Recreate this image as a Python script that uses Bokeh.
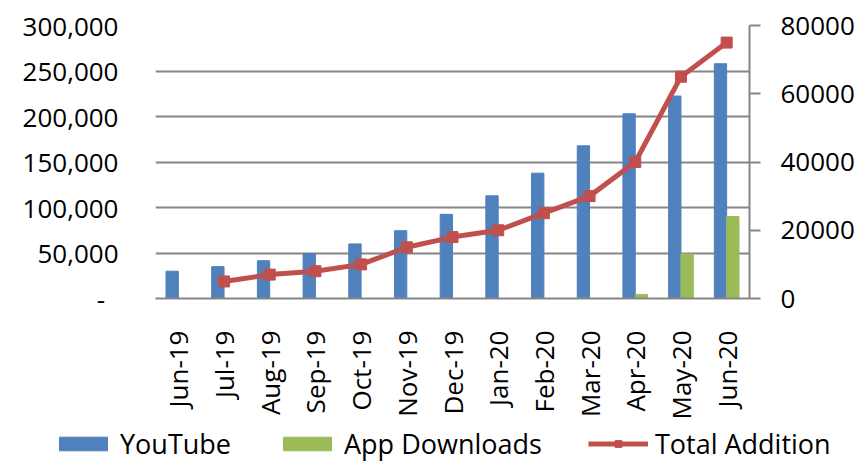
from bokeh.plotting import figure
from bokeh.models import (FactorRange, Range1d, LinearAxis, FixedTicker,
                          CustomJSTickFormatter, Legend, LegendItem, ColumnDataSource)
from bokeh.layouts import column
from bokeh.transform import dodge
from bokeh.embed import file_html
from bokeh.resources import INLINE
import math

months = ["Jun-19", "Jul-19", "Aug-19", "Sep-19", "Oct-19", "Nov-19", "Dec-19",
          "Jan-20", "Feb-20", "Mar-20", "Apr-20", "May-20", "Jun-20"]
youtube = [30000, 35000, 41500, 49500, 60000, 74500, 92500,
           112800, 137700, 167800, 203000, 222500, 258000]
app_downloads = [0, 0, 0, 0, 0, 0, 0, 0, 0, 0, 4500, 49000, 90000]
total_months = months[1:]
total_addition = [5000, 7000, 8000, 10000, 15000, 18000, 20000,
                  25000, 30000, 40000, 65000, 75000]
left_ticks = [0, 50000, 100000, 150000, 200000, 250000, 300000]
right_ticks = [0, 20000, 40000, 60000, 80000]
series_names = ["YouTube", "App Downloads", "Total Addition"]

FONT = "Open Sans"
GRAY = "#868686"
BLUE, GREEN, RED = "#4F81BD", "#9BBB59", "#C0504D"

p = figure(width=861, height=424, output_backend="svg", toolbar_location=None,
           x_range=FactorRange(*months, range_padding=0),
           y_range=Range1d(0, 300000),
           min_border_left=155, min_border_right=112, min_border_top=25,
           min_border_bottom=126, outline_line_color=None)
p.frame_align = False
p.extra_y_ranges = {"right": Range1d(0, 80000)}

src = ColumnDataSource(dict(month=months, yt=youtube, app=app_downloads))
tsrc = ColumnDataSource(dict(month=total_months, tot=total_addition))

p.vbar(x=dodge("month", -0.135, range=p.x_range), top="yt", width=0.27,
       source=src, color=BLUE)
p.vbar(x=dodge("month", 0.135, range=p.x_range), top="app", width=0.27,
       source=src, color=GREEN)
p.line(x="month", y="tot", source=tsrc, y_range_name="right",
       line_color=RED, line_width=5)
p.scatter(x="month", y="tot", source=tsrc, y_range_name="right",
          marker="square", size=11, color=RED)

# left axis
ya = p.yaxis[0]
ya.ticker = FixedTicker(ticks=left_ticks)
ya.formatter = CustomJSTickFormatter(code="""
    if (tick == 0) { return '-\\u00a0\\u00a0'; }
    return tick.toLocaleString('en-US');
""")
ya.axis_line_color = None
ya.major_tick_line_color = None
ya.minor_tick_line_color = None
ya.major_tick_out = 0
ya.major_tick_in = 0
ya.major_label_standoff = 37
ya.major_label_text_font = FONT
ya.major_label_text_font_size = "26px"
ya.major_label_text_color = "black"

# right axis
ra = LinearAxis(y_range_name="right", ticker=FixedTicker(ticks=right_ticks))
ra.axis_line_color = GRAY
ra.axis_line_width = 2
ra.major_tick_line_color = GRAY
ra.major_tick_line_width = 2
ra.major_tick_out = 11
ra.major_tick_in = 0
ra.minor_tick_line_color = None
ra.major_label_standoff = 20
ra.major_label_text_font = FONT
ra.major_label_text_font_size = "26px"
ra.major_label_text_color = "black"
p.add_layout(ra, "right")

# x axis
xa = p.xaxis[0]
xa.axis_line_color = GRAY
xa.axis_line_width = 2
xa.major_tick_line_color = None
xa.major_tick_out = 0
xa.major_tick_in = 0
xa.major_label_standoff = 32
xa.major_label_orientation = math.pi / 2
xa.major_label_text_font = FONT
xa.major_label_text_font_size = "26px"
xa.major_label_text_color = "black"

p.xgrid.grid_line_color = None
p.ygrid.grid_line_color = GRAY
p.ygrid.grid_line_width = 2
p.ygrid.ticker = FixedTicker(ticks=left_ticks)

# legend strip (separate figure so the legend is not clipped)
lg = figure(width=861, height=38, output_backend="svg", toolbar_location=None,
            x_range=Range1d(0, 1), y_range=Range1d(0, 1),
            x_axis_type=None, y_axis_type=None, outline_line_color=None,
            min_border=0)
lg.frame_align = False
lg.xgrid.visible = False
lg.ygrid.visible = False
# zero-size swatch renderers; only used to draw the legend glyphs
l_yt = lg.vbar(x=[0.5], top=[0], bottom=[0], width=0, color=BLUE)
l_app = lg.vbar(x=[0.5], top=[0], bottom=[0], width=0, color=GREEN)
l_line = lg.line(x=[0.5, 0.5], y=[-5, -5], line_color=RED, line_width=5)
l_pts = lg.scatter(x=[0.5], y=[-5], marker="square", size=11, color=RED)

legend = Legend(items=[
    LegendItem(label=series_names[0], renderers=[l_yt]),
    LegendItem(label=series_names[1], renderers=[l_app]),
    LegendItem(label=series_names[2], renderers=[l_line, l_pts]),
], orientation="horizontal", location=(53, 0), padding=0, margin=0,
    spacing=46, glyph_width=60, glyph_height=17, label_standoff=7,
    label_text_font=FONT, label_text_font_size="27px",
    label_text_color="black",
    border_line_color=None, background_fill_alpha=0)
lg.add_layout(legend, "center")

layout = column(p, lg, spacing=0)
open("out.html", "w").write(file_html(layout, INLINE))
